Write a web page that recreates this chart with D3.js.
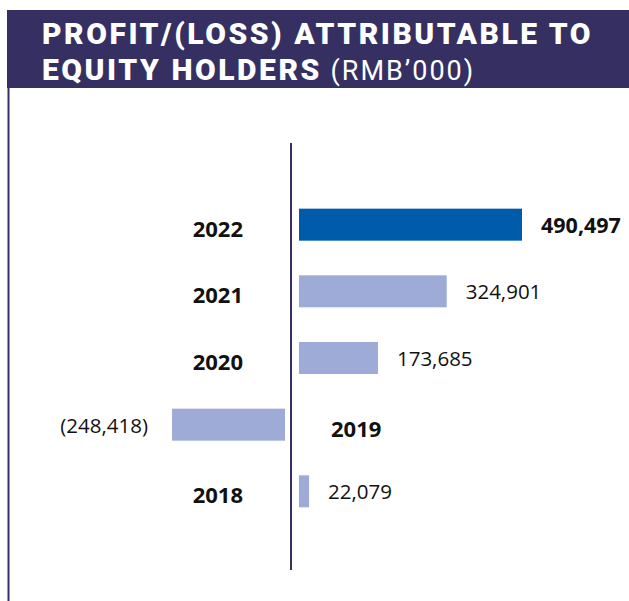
<!DOCTYPE html>
<html>
<head>
<meta charset="utf-8">
<script src="https://cdn.jsdelivr.net/npm/d3@7"></script>
<style>
  body { margin: 0; background: #fff; }
  svg { display: block; }
</style>
</head>
<body>
<div id="chart"></div>
<script>
/*
** Data
*/
var years = ["2022", "2021", "2020", "2019", "2018"];
var profits = [490497, 324901, 173685, -248418, 22079];
var highlightYear = "2022";
var titleLine1 = "PROFIT/(LOSS) ATTRIBUTABLE TO";
var titleLine2 = "EQUITY HOLDERS";
var titleUnit = " (RMB\u2019000)";

var width = 629
  , height = 601
  , axisX = 291
  , gapRight = 8
  , gapLeft = 6
  , purple = "#362f62"
;

var svg = d3.select("#chart").append("svg")
    .attr("width", width)
    .attr("height", height)
;

// header band + left rule
svg.append("rect")
    .attr("x", 7).attr("y", 10)
    .attr("width", width - 7).attr("height", 78)
    .attr("fill", purple)
;
svg.append("line")
    .attr("x1", 8.5).attr("x2", 8.5)
    .attr("y1", 88).attr("y2", height)
    .attr("stroke", purple).attr("stroke-width", 2)
;

// title
var title = svg.append("g")
    .attr("font-family", "Roboto, sans-serif")
    .attr("fill", "#fff")
;
title.append("text")
    .attr("x", 42).attr("y", 44)
    .attr("font-size", 30).attr("font-weight", 900)
    .attr("letter-spacing", 2.55)
    .text(titleLine1)
;
var t2 = title.append("text")
    .attr("x", 42).attr("y", 80)
    .attr("font-size", 30)
;
t2.append("tspan")
    .attr("font-weight", 900).attr("letter-spacing", 2.55)
    .text(titleLine2)
;
t2.append("tspan")
    .attr("font-weight", 400).attr("font-size", 27)
    .attr("letter-spacing", 2)
    .text(titleUnit)
;

/*
** Scales
*/
var y = d3.scaleBand()
    .domain(years)
    .range([174, 542])
    .paddingInner(0.52)
    .paddingOuter(0.52)
;
var len = d3.scaleLinear()
    .domain([0, 490497])
    .range([0, 223])
;

var rows = years.map(function(yr, i) {
    return { year: yr, value: profits[i] };
});

// centre axis
svg.append("line")
    .attr("x1", axisX).attr("x2", axisX)
    .attr("y1", 143).attr("y2", 570)
    .attr("stroke", purple).attr("stroke-width", 2)
;

var row = svg.selectAll("g.row")
    .data(rows)
  .enter().append("g")
    .attr("class", "row")
    .attr("transform", function(d) { return "translate(0," + y(d.year) + ")"; })
;

row.append("rect")
    .attr("x", function(d) {
        return d.value >= 0 ? axisX + gapRight : axisX - gapLeft - len(-d.value);
      })
    .attr("y", 0)
    .attr("width", function(d) { return len(Math.abs(d.value)); })
    .attr("height", y.bandwidth())
    .attr("fill", function(d) { return d.year === highlightYear ? "#005bab" : "#9eabd7"; })
;

var c = y.bandwidth() / 2;

// year labels, on the side opposite the bar
row.append("text")
    .attr("x", function(d) { return d.value >= 0 ? axisX - 48 : axisX + 40; })
    .attr("y", c + 12)
    .attr("text-anchor", function(d) { return d.value >= 0 ? "end" : "start"; })
    .attr("font-family", "Open Sans, sans-serif")
    .attr("font-weight", 700)
    .attr("font-size", 22)
    .attr("fill", "#111")
    .text(function(d) { return d.year; })
;

// value labels
var fmt = d3.format(",");
row.append("text")
    .attr("x", function(d) {
        return d.value >= 0
          ? axisX + gapRight + len(d.value) + 19
          : axisX - gapLeft - len(-d.value) - 24;
      })
    .attr("y", c + 8)
    .attr("text-anchor", function(d) { return d.value >= 0 ? "start" : "end"; })
    .attr("font-family", "Open Sans, sans-serif")
    .attr("font-weight", function(d) { return d.year === highlightYear ? 700 : 400; })
    .attr("font-size", function(d) { return d.year === highlightYear ? 21.5 : 20.5; })
    .attr("fill", "#111")
    .text(function(d) { return d.value < 0 ? "(" + fmt(-d.value) + ")" : fmt(d.value); })
;
</script>
</body>
</html>
